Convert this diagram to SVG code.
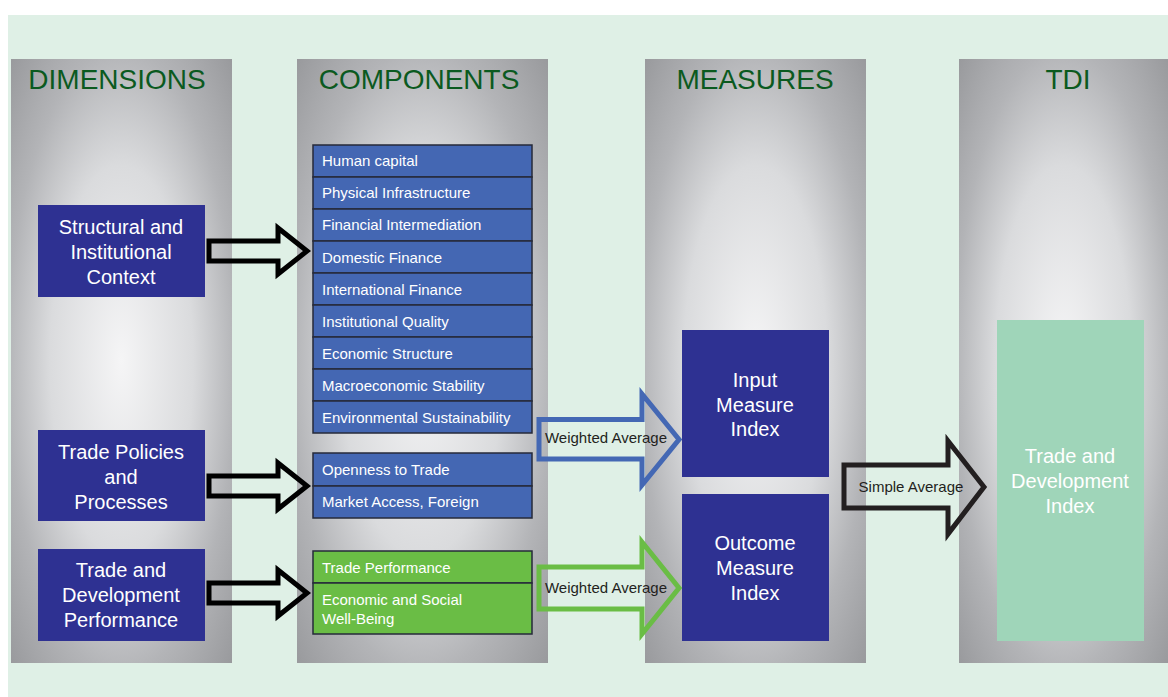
<svg xmlns="http://www.w3.org/2000/svg" width="1168" height="697" viewBox="0 0 1168 697">
<defs>
<radialGradient id="colg" cx="0.5" cy="0.5" r="0.72">
<stop offset="0" stop-color="#f5f5f6"/>
<stop offset="0.45" stop-color="#dadbdd"/>
<stop offset="0.72" stop-color="#b3b4b7"/>
<stop offset="1" stop-color="#97989b"/>
</radialGradient>
<style>
.col{fill:url(#colg)}
.hdr{font-family:"Liberation Sans",Arial,sans-serif;font-size:28px;fill:#0b5a1f;text-anchor:middle}
.nb{fill:#2e3192}
.nt{font-family:"Liberation Sans",Arial,sans-serif;font-size:20px;fill:#ffffff;text-anchor:middle}
.cb{fill:#4467b3;stroke:#262a3a;stroke-width:1.5}
.cg{fill:#6abd45;stroke:#262a3a;stroke-width:1.5}
.ct{font-family:"Liberation Sans",Arial,sans-serif;font-size:15px;fill:#ffffff}
.ba{fill:none;stroke:#000000;stroke-width:5;stroke-linejoin:miter;stroke-miterlimit:10}
.at{font-family:"Liberation Sans",Arial,sans-serif;font-size:15px;fill:#231f20;text-anchor:middle}
</style>
</defs>
<rect x="0" y="0" width="1168" height="697" fill="#ffffff"/>
<rect x="8" y="15" width="1160" height="682" fill="#dff0e6"/>

<g id="col-dimensions">
<rect class="col" x="11" y="59" width="221" height="604"/>
<text class="hdr" x="117" y="89">DIMENSIONS</text>
</g>
<g id="col-components">
<rect class="col" x="297" y="59" width="251" height="604"/>
<text class="hdr" x="419" y="89">COMPONENTS</text>
</g>
<g id="col-measures">
<rect class="col" x="645" y="59" width="221" height="604"/>
<text class="hdr" x="755" y="89">MEASURES</text>
</g>
<g id="col-tdi">
<rect class="col" x="959" y="59" width="209" height="604"/>
<text class="hdr" x="1068" y="89">TDI</text>
</g>

<g id="dim-structural">
<rect class="nb" x="38" y="205" width="167" height="92"/>
<text class="nt" x="121" y="234">Structural and</text>
<text class="nt" x="121" y="259">Institutional</text>
<text class="nt" x="121" y="284">Context</text>
</g>
<g id="dim-trade-policies">
<rect class="nb" x="38" y="430" width="167" height="91"/>
<text class="nt" x="121" y="459">Trade Policies</text>
<text class="nt" x="121" y="484">and</text>
<text class="nt" x="121" y="509">Processes</text>
</g>
<g id="dim-trade-dev">
<rect class="nb" x="38" y="549" width="167" height="92"/>
<text class="nt" x="121" y="577">Trade and</text>
<text class="nt" x="121" y="602">Development</text>
<text class="nt" x="121" y="627">Performance</text>
</g>

<g id="comp-structural">
<rect class="cb" x="313" y="145" width="219" height="32"/>
<text class="ct" x="322" y="166">Human capital</text>
<rect class="cb" x="313" y="177" width="219" height="32"/>
<text class="ct" x="322" y="198">Physical Infrastructure</text>
<rect class="cb" x="313" y="209" width="219" height="32"/>
<text class="ct" x="322" y="230">Financial Intermediation</text>
<rect class="cb" x="313" y="241" width="219" height="32"/>
<text class="ct" x="322" y="263">Domestic Finance</text>
<rect class="cb" x="313" y="273" width="219" height="32"/>
<text class="ct" x="322" y="295">International Finance</text>
<rect class="cb" x="313" y="305" width="219" height="32"/>
<text class="ct" x="322" y="327">Institutional Quality</text>
<rect class="cb" x="313" y="337" width="219" height="32"/>
<text class="ct" x="322" y="359">Economic Structure</text>
<rect class="cb" x="313" y="369" width="219" height="32"/>
<text class="ct" x="322" y="391">Macroeconomic Stability</text>
<rect class="cb" x="313" y="401" width="219" height="32"/>
<text class="ct" x="322" y="423">Environmental Sustainability</text>
</g>
<g id="comp-trade-policies">
<rect class="cb" x="313" y="453" width="219" height="33"/>
<text class="ct" x="322" y="475">Openness to Trade</text>
<rect class="cb" x="313" y="486" width="219" height="32"/>
<text class="ct" x="322" y="507">Market Access, Foreign</text>
</g>
<g id="comp-trade-dev">
<rect class="cg" x="313" y="551" width="219" height="32"/>
<text class="ct" x="322" y="573">Trade Performance</text>
<rect class="cg" x="313" y="583" width="219" height="51"/>
<text class="ct" x="322" y="605">Economic and Social</text>
<text class="ct" x="322" y="624">Well-Being</text>
</g>

<g id="measure-input">
<rect class="nb" x="682" y="330" width="147" height="147"/>
<text class="nt" x="755" y="387">Input</text>
<text class="nt" x="755" y="412">Measure</text>
<text class="nt" x="755" y="436">Index</text>
</g>
<g id="measure-outcome">
<rect class="nb" x="682" y="494" width="147" height="147"/>
<text class="nt" x="755" y="550">Outcome</text>
<text class="nt" x="755" y="575">Measure</text>
<text class="nt" x="755" y="600">Index</text>
</g>
<g id="tdi-index">
<rect x="997" y="320" width="147" height="321" fill="#9fd5b9"/>
<text class="nt" x="1070" y="463">Trade and</text>
<text class="nt" x="1070" y="488">Development</text>
<text class="nt" x="1070" y="513">Index</text>
</g>

<g id="connectors">
<path class="ba" d="M209,241 L278,241 L278,228 L307,251 L278,274 L278,261 L209,261 Z"/>
<path class="ba" d="M209,476 L278,476 L278,463 L307,486 L278,509 L278,496 L209,496 Z"/>
<path class="ba" d="M209,583 L278,583 L278,570 L307,593 L278,616 L278,603 L209,603 Z"/>
<path fill="none" stroke="#4468b4" stroke-width="5" d="M539,419.5 L642,419.5 L642,394 L679,439.5 L642,485 L642,459 L539,459 Z"/>
<text class="at" x="606" y="443">Weighted Average</text>
<path fill="none" stroke="#6abd45" stroke-width="5" d="M539,567 L642,567 L642,542 L679,588 L642,634 L642,609 L539,609 Z"/>
<text class="at" x="606" y="593">Weighted Average</text>
<path fill="none" stroke="#231f20" stroke-width="5" d="M844,465 L948,465 L948,441 L984,487 L948,534 L948,508 L844,508 Z"/>
<text class="at" x="911" y="492">Simple Average</text>
</g>
</svg>
